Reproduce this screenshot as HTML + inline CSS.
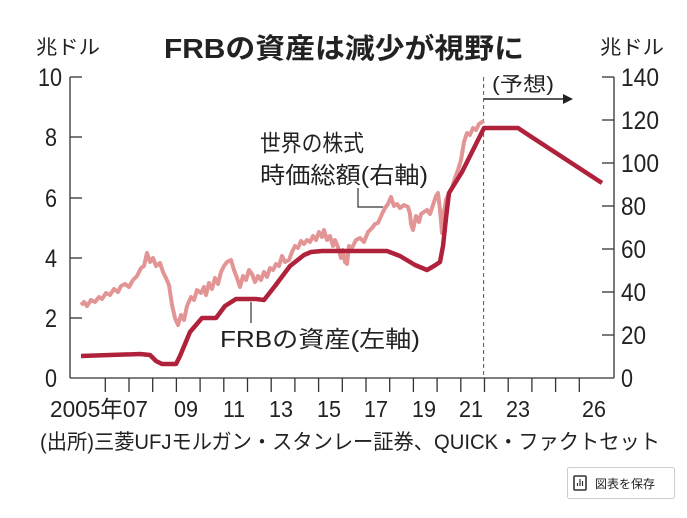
<!DOCTYPE html>
<html><head><meta charset="utf-8"><style>
html,body{margin:0;padding:0;background:#fff;}
svg text{font-family:"Liberation Sans","Noto Sans CJK JP",sans-serif;fill:#222;}
</style></head><body>
<svg width="687" height="513" viewBox="0 0 687 513" xmlns="http://www.w3.org/2000/svg">
<rect width="687" height="513" fill="#fff"/>
<text x="344" y="58" font-size="28" font-weight="bold" text-anchor="middle" textLength="360" lengthAdjust="spacingAndGlyphs">FRBの資産は減少が視野に</text>
<text x="36" y="54" font-size="20" textLength="64" lengthAdjust="spacingAndGlyphs">兆ドル</text>
<text x="600" y="54" font-size="20" textLength="64" lengthAdjust="spacingAndGlyphs">兆ドル</text>
<g stroke="#333" stroke-width="1.3" fill="none">
<line x1="70" y1="77" x2="70" y2="378"/>
<line x1="614" y1="77" x2="614" y2="378"/>
<line x1="70" y1="378" x2="614" y2="378"/>
<line x1="70" y1="77" x2="82" y2="77"/><line x1="70" y1="137" x2="82" y2="137"/><line x1="70" y1="198" x2="82" y2="198"/><line x1="70" y1="258" x2="82" y2="258"/><line x1="70" y1="318" x2="82" y2="318"/>
<line x1="602" y1="77" x2="614" y2="77"/><line x1="602" y1="120" x2="614" y2="120"/><line x1="602" y1="163" x2="614" y2="163"/><line x1="602" y1="206" x2="614" y2="206"/><line x1="602" y1="249" x2="614" y2="249"/><line x1="602" y1="292" x2="614" y2="292"/><line x1="602" y1="335" x2="614" y2="335"/>
<path d="M105.3 378v14M129 378v14M152.7 378v14M176.4 378v14M200.1 378v14M223.8 378v14M247.5 378v14M271.2 378v14M294.9 378v14M318.6 378v14M342.3 378v14M366 378v14M389.7 378v14M413.4 378v14M437.1 378v14M460.8 378v14M484.5 378v14M508.2 378v14M531.9 378v14M555.6 378v14M579.3 378v14"/>
</g>
<g font-size="25" text-anchor="end">
<text x="62" y="86" textLength="24" lengthAdjust="spacingAndGlyphs">10</text>
<text x="57" y="146" textLength="12" lengthAdjust="spacingAndGlyphs">8</text><text x="57" y="207" textLength="12" lengthAdjust="spacingAndGlyphs">6</text><text x="57" y="267" textLength="12" lengthAdjust="spacingAndGlyphs">4</text><text x="57" y="327" textLength="12" lengthAdjust="spacingAndGlyphs">2</text><text x="57" y="387" textLength="12" lengthAdjust="spacingAndGlyphs">0</text>
</g>
<g font-size="25" text-anchor="start">
<text x="621" y="86" textLength="38" lengthAdjust="spacingAndGlyphs">140</text>
<text x="621" y="129" textLength="38" lengthAdjust="spacingAndGlyphs">120</text>
<text x="621" y="172" textLength="38" lengthAdjust="spacingAndGlyphs">100</text>
<text x="621" y="215" textLength="25" lengthAdjust="spacingAndGlyphs">80</text>
<text x="621" y="258" textLength="25" lengthAdjust="spacingAndGlyphs">60</text>
<text x="621" y="301" textLength="25" lengthAdjust="spacingAndGlyphs">40</text>
<text x="621" y="344" textLength="25" lengthAdjust="spacingAndGlyphs">20</text>
<text x="621" y="387" textLength="12" lengthAdjust="spacingAndGlyphs">0</text>
</g>
<g font-size="23" text-anchor="middle">
<text x="99" y="417" textLength="98" lengthAdjust="spacingAndGlyphs">2005年07</text>
<text x="186" y="417" textLength="24" lengthAdjust="spacingAndGlyphs">09</text><text x="234" y="417" textLength="22" lengthAdjust="spacingAndGlyphs">11</text><text x="281" y="417" textLength="24" lengthAdjust="spacingAndGlyphs">13</text><text x="329" y="417" textLength="24" lengthAdjust="spacingAndGlyphs">15</text><text x="376" y="417" textLength="24" lengthAdjust="spacingAndGlyphs">17</text><text x="424" y="417" textLength="24" lengthAdjust="spacingAndGlyphs">19</text><text x="471" y="417" textLength="24" lengthAdjust="spacingAndGlyphs">21</text><text x="518" y="417" textLength="24" lengthAdjust="spacingAndGlyphs">23</text><text x="594" y="417" textLength="24" lengthAdjust="spacingAndGlyphs">26</text>
</g>
<text x="40" y="449" font-size="21" textLength="620" lengthAdjust="spacingAndGlyphs">(出所)三菱UFJモルガン・スタンレー証券、QUICK・ファクトセット</text>
<line x1="483.6" y1="77" x2="483.6" y2="376" stroke="#555" stroke-width="1" stroke-dasharray="4,3"/>
<text x="492" y="91" font-size="20" textLength="62" lengthAdjust="spacingAndGlyphs">(予想)</text>
<line x1="484" y1="99" x2="566" y2="99" stroke="#222" stroke-width="1.5"/>
<polygon points="573,99 563,94 563,104" fill="#222"/>
<polyline fill="none" stroke="#e39494" stroke-width="4" stroke-linejoin="round" points="81,305 84,302 87,306 91,300 95,302 99,297 102,299 106,293 110,295 114,289 118,292 121,286 125,284 129,287 133,280 137,276 141,268 144,266 147,253 150,262 153,258 156,266 160,263 163,272 166,278 169,285 172,305 175,318 178,325 181,315 184,320 187,306 191,297 194,300 197,290 201,293 204,287 206,295 209,283 212,289 215,278 218,284 221,272 224,266 227,262 231,260 234,270 237,278 240,287 243,276 246,280 249,270 252,274 255,282 258,276 261,280 264,272 267,277 270,268 273,270 276,264 279,266 282,256 285,262 289,260 292,252 295,246 298,248 301,241 304,244 307,240 310,242 313,236 316,240 319,232 322,237 324,230 327,240 330,236 333,246 335,240 338,247 341,258 343,250 345,262 347,264 349,246 352,248 356,240 360,238 364,242 368,232 372,228 375,224 378,223 382,214 385,208 388,204 391,197 394,206 397,204 400,208 404,205 408,207 410,214 411,224 413,230 416,216 419,222 421,214 424,212 427,210 430,214 433,205 436,196 438,193 440,210 442,233 444,212 446,200 449,193 452,188 455,178 458,170 461,160 464,142 467,133 470,135 473,128 476,130 479,124 482,122 484,121"/>
<polyline fill="none" stroke="#b0223c" stroke-width="4.5" stroke-linejoin="round" points="81,356 140,354 150,355 156,361 162,364 176,364 180,356 190,332 202,318 216,318 225,306 236,299 256,299 264,300 275,286 290,266 304,255 311,252 322,251 387,251 400,256 415,265 427,270 434,266 440,262 443,246 446,218 449,193 462,172 484,128 518,128 527,134 602,183"/>
<text x="260" y="151" font-size="23" textLength="104" lengthAdjust="spacingAndGlyphs">世界の株式</text>
<text x="260" y="183" font-size="23" textLength="168" lengthAdjust="spacingAndGlyphs">時価総額(右軸)</text>
<polyline points="358,188 358,207 383,207" fill="none" stroke="#333" stroke-width="1.2"/>
<text x="220" y="347" font-size="23" textLength="200" lengthAdjust="spacingAndGlyphs">FRBの資産(左軸)</text>
<line x1="251" y1="302" x2="251" y2="323" stroke="#333" stroke-width="1.2"/>
<rect x="567.5" y="467.5" width="107" height="31" fill="#fff" stroke="#ccc" stroke-width="1" rx="2"/>
<rect x="574" y="476" width="12" height="14" fill="none" stroke="#333" stroke-width="1.6" rx="1"/>
<path d="M577.5 486v-3M580 486v-7M582.5 486v-5" stroke="#333" stroke-width="1.2"/>
<text x="595" y="488" font-size="12" fill="#333" textLength="60" lengthAdjust="spacingAndGlyphs">図表を保存</text>
</svg>
</body></html>
